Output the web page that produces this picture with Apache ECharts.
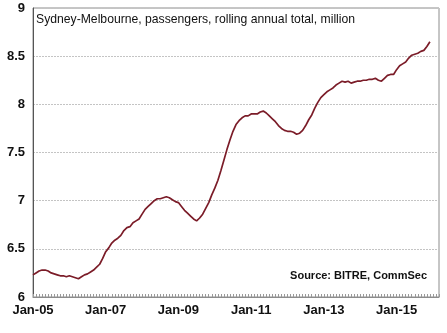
<!DOCTYPE html>
<html>
<head>
<meta charset="utf-8">
<script src="https://cdn.jsdelivr.net/npm/echarts@6/dist/echarts.min.js"></script>
<style>
html,body{margin:0;padding:0;background:#fff;}
#c{width:447px;height:333px;}
</style>
</head>
<body>
<div id="c"></div>
<script>
// Months Jan-05 .. Mar-16
const months = [];
const mNames = ['Jan','Feb','Mar','Apr','May','Jun','Jul','Aug','Sep','Oct','Nov','Dec'];
for (let y = 5; y <= 16; y++) {
  for (let m = 0; m < 12; m++) {
    if (y === 16 && m > 2) break;
    months.push(mNames[m] + '-' + String(y).padStart(2, '0'));
  }
}
const v2005 = [6.23, 6.25, 6.27, 6.28, 6.28, 6.27, 6.25, 6.24, 6.23, 6.22, 6.22, 6.21];
const v2006 = [6.22, 6.21, 6.20, 6.19, 6.21, 6.23, 6.24, 6.26, 6.28, 6.31, 6.34, 6.40];
const v2007 = [6.47, 6.51, 6.56, 6.59, 6.61, 6.64, 6.69, 6.72, 6.73, 6.77, 6.79, 6.81];
const v2008 = [6.86, 6.91, 6.94, 6.97, 7.00, 7.02, 7.02, 7.03, 7.04, 7.03, 7.01, 6.99];
const v2009 = [6.98, 6.94, 6.90, 6.87, 6.84, 6.81, 6.79, 6.82, 6.86, 6.92, 6.98, 7.06];
const v2010 = [7.13, 7.21, 7.31, 7.42, 7.53, 7.63, 7.72, 7.79, 7.83, 7.86, 7.88, 7.88];
const v2011 = [7.90, 7.90, 7.90, 7.92, 7.93, 7.91, 7.88, 7.85, 7.82, 7.78, 7.75, 7.73];
const v2012 = [7.72, 7.72, 7.71, 7.69, 7.70, 7.73, 7.78, 7.84, 7.89, 7.96, 8.02, 8.07];
const v2013 = [8.10, 8.13, 8.15, 8.17, 8.20, 8.22, 8.24, 8.23, 8.24, 8.22, 8.23, 8.24];
const v2014 = [8.24, 8.25, 8.25, 8.26, 8.26, 8.27, 8.25, 8.24, 8.27, 8.30, 8.31, 8.31];
const v2015 = [8.36, 8.40, 8.42, 8.44, 8.48, 8.51, 8.52, 8.53, 8.55, 8.56, 8.60, 8.65];
const values = [].concat(v2005, v2006, v2007, v2008, v2009, v2010, v2011, v2012, v2013, v2014, v2015);

const titleText = 'Sydney-Melbourne, passengers, rolling annual total, million';
const sourceText = 'Source: BITRE, CommSec';

const chart = echarts.init(document.getElementById('c'), null, {renderer: 'canvas'});
const FONT = '"Liberation Sans", Arial, sans-serif';
chart.setOption({
  animation: false,
  backgroundColor: '#fff',
  textStyle: {fontFamily: FONT},
  grid: {left: 33, right: 8, top: 8, bottom: 36, show: true, borderColor: '#8c8c8c', borderWidth: 1},
  graphic: [
    {type: 'text', left: 36, top: 14, style: {text: titleText, font: '12.2px ' + FONT, fill: '#111'}},
    {type: 'text', right: 20, top: 270, style: {text: sourceText, font: 'bold 11px ' + FONT, fill: '#111'}}
  ],
  xAxis: {
    type: 'category',
    data: months,
    boundaryGap: false,
    axisLine: {lineStyle: {color: '#8c8c8c', width: 1}},
    axisTick: {show: true, interval: 0, inside: true, length: 3, lineStyle: {color: '#9a9a9a'}},
    axisLabel: {
      interval: function (i) { return i % 24 === 0; },
      fontFamily: FONT, fontSize: 13, fontWeight: 'bold', color: '#111', margin: 7
    },
    splitLine: {show: false}
  },
  yAxis: {
    type: 'value',
    min: 6, max: 9, interval: 0.5,
    axisLine: {show: true, lineStyle: {color: '#555', width: 1}},
    axisTick: {show: false},
    axisLabel: {fontFamily: FONT, fontSize: 13, fontWeight: 'bold', color: '#111', margin: 8},
    splitLine: {show: true, lineStyle: {color: '#c4c4c4', type: [2, 1], width: 1}}
  },
  series: [{
    type: 'line',
    data: values,
    showSymbol: false,
    smooth: false,
    lineStyle: {color: '#7b1c28', width: 1.7},
    itemStyle: {color: '#7b1c28'}
  }]
});
</script>
</body>
</html>
